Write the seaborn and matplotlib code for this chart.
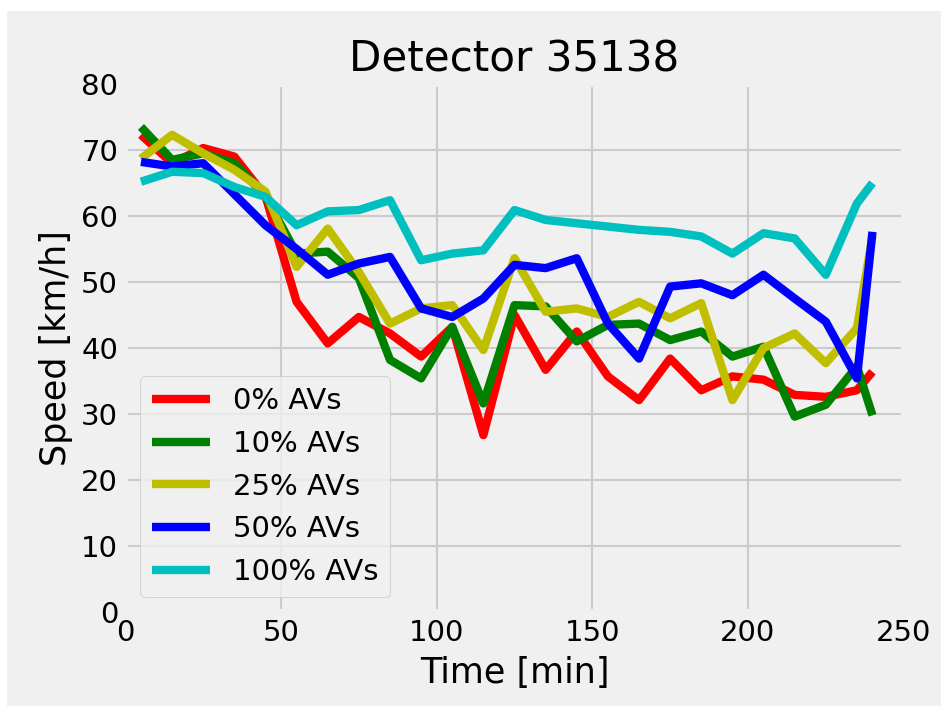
import numpy as np
import pandas as pd
import matplotlib
matplotlib.use("Agg")
import matplotlib.pyplot as plt
from matplotlib.patches import Rectangle
import seaborn as sns

# Time bins [min]
time_min = [5, 15, 25, 35, 45, 55, 65, 75, 85, 95, 105, 115, 125,
            135, 145, 155, 165, 175, 185, 195, 205, 215, 225, 235, 240]

# Mean speed [km/h] per AV penetration rate
speed_0 = [72.3, 68.0, 70.3, 69.0, 63.0, 47.0, 40.7, 44.7, 42.2, 38.7, 43.2, 26.8, 45.0,
           36.7, 42.5, 35.7, 32.1, 38.4, 33.6, 35.7, 35.2, 32.9, 32.6, 33.6, 36.4]
speed_10 = [73.5, 68.5, 69.5, 68.0, 63.0, 54.3, 54.6, 50.6, 38.2, 35.4, 43.2, 31.6, 46.5,
            46.3, 41.0, 43.5, 43.7, 41.2, 42.5, 38.7, 40.2, 29.6, 31.4, 37.2, 29.8]
speed_25 = [68.7, 72.3, 69.5, 67.0, 63.7, 52.3, 58.1, 51.5, 43.7, 46.0, 46.5, 39.7, 53.6,
            45.5, 46.0, 44.7, 47.0, 44.5, 46.8, 32.1, 40.0, 42.2, 37.7, 43.0, 57.0]
speed_50 = [68.2, 67.5, 68.0, 63.3, 58.6, 55.0, 51.1, 52.8, 53.8, 46.0, 44.7, 47.5, 52.6,
            52.1, 53.6, 43.7, 38.4, 49.3, 49.8, 48.0, 51.1, 47.5, 44.0, 35.4, 57.6]
speed_100 = [65.2, 66.7, 66.5, 64.4, 62.9, 58.6, 60.7, 60.9, 62.4, 53.3, 54.3, 54.8, 60.9,
             59.4, 58.9, 58.4, 57.9, 57.6, 56.9, 54.3, 57.4, 56.6, 51.1, 61.9, 65.0]

scenarios = ["0% AVs", "10% AVs", "25% AVs", "50% AVs", "100% AVs"]
series = [speed_0, speed_10, speed_25, speed_50, speed_100]
colors = ["r", "g", "y", "b", "c"]

df = pd.concat(
    [pd.DataFrame({"time": time_min, "speed": s, "scenario": name})
     for name, s in zip(scenarios, series)],
    ignore_index=True,
)

plt.style.use("fivethirtyeight")
plt.rcParams["font.family"] = ["DejaVu Sans"]

W, H, DPI = 952, 718, 150
fig = plt.figure(figsize=(W / DPI, H / DPI), dpi=DPI)
fig.patch.set_facecolor("white")
fig.patches.append(Rectangle((7 / W, 1 - 706 / H), (941 - 7) / W, (706 - 11) / H,
                             transform=fig.transFigure, facecolor="#f0f0f0",
                             edgecolor="none", zorder=-10))

ax = fig.add_axes([125.4 / W, 1 - 612 / H, (903.6 - 125.4) / W, (612 - 84) / H])

sns.lineplot(data=df, x="time", y="speed", hue="scenario", hue_order=scenarios,
             palette=dict(zip(scenarios, colors)), linewidth=4, ax=ax)

ax.set_xlim(0, 250)
ax.set_ylim(0, 80)
ax.set_xticks([0, 50, 100, 150, 200, 250])
ax.set_yticks(range(0, 81, 10))
ax.set_title("Detector 35138")
ax.set_xlabel("Time [min]")
ax.set_ylabel("Speed [km/h]")

handles, labels = ax.get_legend_handles_labels()
leg = ax.legend(handles, labels, loc="lower left")
for h in leg.get_lines():
    h.set_linewidth(4)

fig.savefig("out.png", dpi=DPI)
